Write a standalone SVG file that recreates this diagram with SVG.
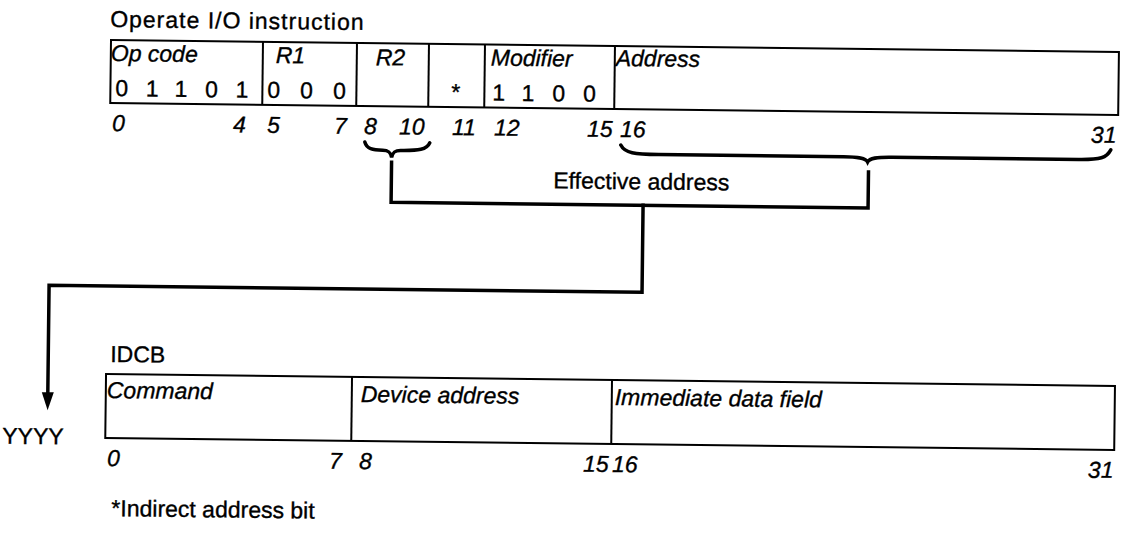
<svg xmlns="http://www.w3.org/2000/svg" width="1121" height="535" viewBox="0 0 1121 535">
<style>
text{font-family:"Liberation Sans",Arial,Helvetica,sans-serif;font-size:23px;fill:#000;stroke:#000;stroke-width:0.35}
.i{font-style:italic}
.b{fill:none;stroke:#000;stroke-width:2}
.c{fill:none;stroke:#000;stroke-width:3.5;stroke-linecap:square}
.br{fill:none;stroke:#000;stroke-width:3.5;stroke-linecap:round}
</style>
<rect width="1121" height="535" fill="#fff"/>
<g transform="rotate(0.68 110 40)">
<g id="instruction">
<text x="110" y="27" letter-spacing="1">Operate I/O instruction</text>
<rect class="b" x="111" y="40" width="1008" height="63"/>
<line class="b" x1="263" y1="40" x2="263" y2="103"/>
<line class="b" x1="357" y1="40" x2="357" y2="103"/>
<line class="b" x1="429" y1="40" x2="429" y2="103"/>
<line class="b" x1="485" y1="40" x2="485" y2="103"/>
<line class="b" x1="615" y1="40" x2="615" y2="103"/>
<text class="i" x="111" y="61">Op code</text>
<text class="i" x="276" y="61">R1</text>
<text class="i" x="376" y="62">R2</text>
<text class="i" x="491" y="61">Modifier</text>
<text class="i" x="616" y="60">Address</text>
<text x="116" y="96" letter-spacing="17.7">01101</text>
<text x="268" y="96" letter-spacing="20">000</text>
<text x="452" y="96">*</text>
<text x="493" y="96" letter-spacing="18">1100</text>
<text class="i" x="113" y="131">0</text>
<text class="i" x="234" y="131">4</text>
<text class="i" x="268" y="131">5</text>
<text class="i" x="335" y="131">7</text>
<text class="i" x="365" y="131">8</text>
<text class="i" x="400" y="131">10</text>
<text class="i" x="453" y="131">11</text>
<text class="i" x="495" y="131">12</text>
<text class="i" x="588" y="131">15</text>
<text class="i" x="621" y="131">16</text>
<text class="i" x="1092" y="131">31</text>
</g>
<g id="idcb">
<text x="114" y="362">IDCB</text>
<rect class="b" x="110" y="374" width="1009" height="64"/>
<line class="b" x1="356" y1="374" x2="356" y2="438"/>
<line class="b" x1="616" y1="374" x2="616" y2="438"/>
<text class="i" x="111" y="398">Command</text>
<text class="i" x="365" y="399">Device address</text>
<text class="i" x="619" y="399">Immediate data field</text>
<text x="7" y="445">YYYY</text>
<text class="i" x="112" y="466">0</text>
<text class="i" x="334" y="466">7</text>
<text class="i" x="364" y="466">8</text>
<text class="i" x="588" y="466">15</text>
<text class="i" x="617" y="466">16</text>
<text class="i" x="1093" y="466">31</text>
</g>
<g id="footnote">
<text x="117" y="516">*Indirect address bit</text>
</g>
<g id="connectors">
<path class="br" d="M366,139 C368,146 374,147 384,147 C390,147 392,149 393,154 C394,149 396,147 402,147 C420,147 428,146 431,139"/>
<path class="br" d="M622,139 C626,147 636,148 660,148 L845,148 C860,148 867,149 869,153 C871,149 878,148 893,148 L1080,148 C1102,148 1108,146 1112,138"/>
<path class="c" d="M393,159 L393,199 L870,199 L870,163"/>
<text x="643" y="183" text-anchor="middle">Effective address</text>
<path class="c" d="M645,199 L645,286 L52,286 L52,396"/>
<polygon points="46,393 58,393 52,411" fill="#000"/>
</g>
</g>
</svg>
